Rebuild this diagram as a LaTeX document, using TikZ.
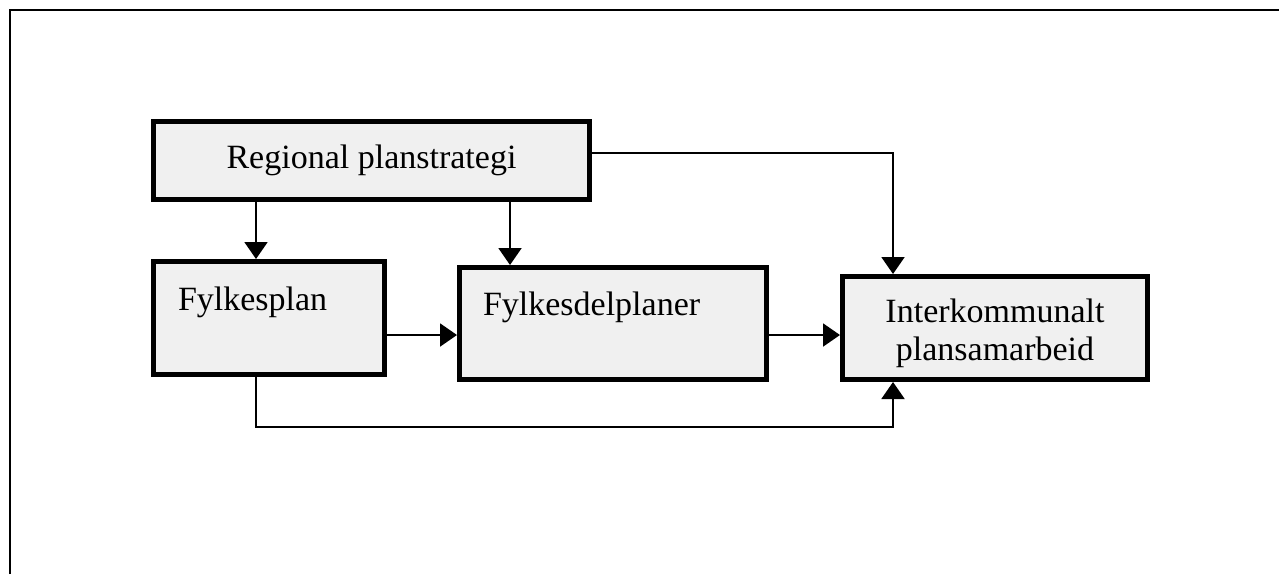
\documentclass[tikz,border=0pt]{standalone}
\usepackage{fontspec}
\setmainfont{Liberation Serif}
\usetikzlibrary{arrows.meta,calc}
\definecolor{boxfill}{HTML}{F0F0F0}
\tikzset{
  box/.style={draw=black, line width=5pt, fill=boxfill, inner sep=0pt, outer sep=0pt, rectangle},
  txt/.style={inner sep=0pt, outer sep=0pt, font=\fontsize{34}{38}\selectfont},
  arr/.style={line width=2pt, -{Triangle[width=23pt,length=17pt]}, shorten >=2.5pt},
  conn/.style={line width=2pt}
}
\begin{document}
\begin{tikzpicture}[x=1pt,y=1pt]
\useasboundingbox (0,0) rectangle (1279,-574);
% outer frame
\draw[line width=2pt, line join=miter] (10,-574) -- (10,-10) -- (1279,-10);
% boxes
\node[box, minimum width=436pt, minimum height=78pt, txt, font=\fontsize{34}{38}\selectfont] (reg) at (371.5,-160.5) {Regional planstrategi};
\node[box, minimum width=231pt, minimum height=113pt] (fp) at (269,-318) {};
\node[box, minimum width=307pt, minimum height=112pt] (fd) at (613,-323.5) {};
\node[box, minimum width=305pt, minimum height=103pt] (inter) at (995,-328) {};
% texts
\node[txt, anchor=base west] (tfp) at (178,-310) {Fylkesplan};
\node[txt, anchor=base west] (tfd) at (483,-315) {Fylkesdelplaner};
\node[txt, anchor=north, align=center] (tin) at (995,-298.5) {Interkommunalt\\plansamarbeid};
% connectors
\draw[arr] ([xshift=-13pt]fp.north |- reg.south) -- ([xshift=-13pt]fp.north);
\draw[arr] ([xshift=-103pt]fd.north |- reg.south) -- ([xshift=-103pt]fd.north);
\draw[arr] ([yshift=7.5pt]reg.east) -| ([xshift=-102pt]inter.north);
\draw[arr] ([yshift=-17pt]fp.east) -- ([yshift=-17pt]fp.east -| fd.west);
\draw[arr] ([yshift=-11.5pt]fd.east) -- ([yshift=-11.5pt]fd.east -| inter.west);
\draw[arr] ([xshift=-13pt]fp.south) -- ++(0,-52.5) -| ([xshift=-102pt]inter.south);
\end{tikzpicture}
\end{document}
